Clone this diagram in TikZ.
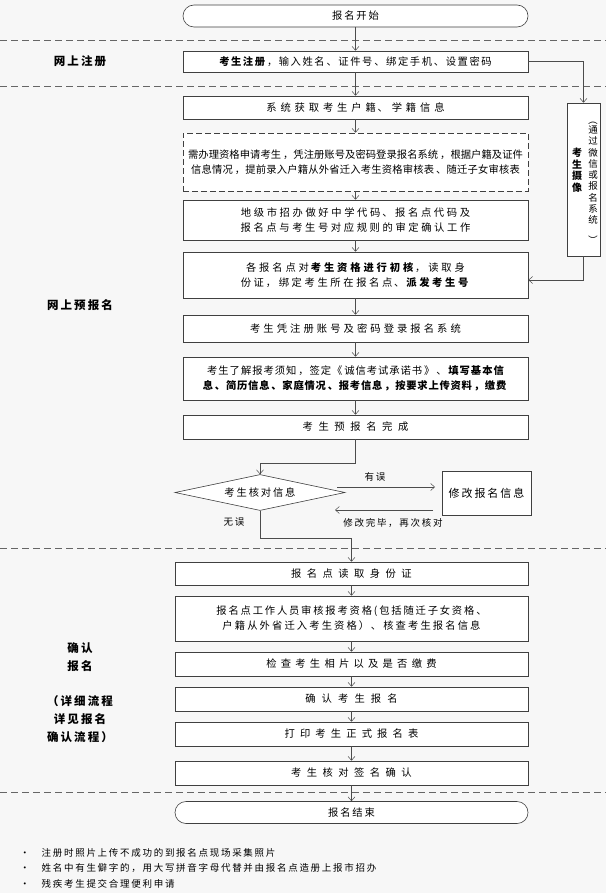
\documentclass[tikz,border=0pt]{standalone}
\usepackage{fontspec}
\setmainfont[LetterSpace=18]{Noto Sans CJK SC}
\usepackage{graphicx}
\usetikzlibrary{shapes.geometric,arrows.meta}
\XeTeXlinebreaklocale "zh"
\XeTeXlinebreakskip=0pt plus 1pt
\begin{document}
\begin{tikzpicture}[x=1pt,y=-1pt,
  every node/.style={font=\fontsize{10.3}{15}\selectfont, inner sep=0pt},
  box/.style={draw=black!75, fill=white, line width=0.6pt, align=center, minimum width=345, text width=337},
  lbox/.style={box, minimum width=353, text width=345},
  dbox/.style={box, dashed, dash pattern=on 6pt off 3pt},
  term/.style={draw=black!75, fill=white, line width=0.6pt, rounded corners=11pt, minimum width=345, minimum height=22},
  arr/.style={draw=black!70, line width=0.5pt, -{Straight Barb[length=4pt,width=7pt]}},
  sep/.style={draw=black!60, line width=0.8pt, dash pattern=on 7pt off 4pt},
  lab/.style={font=\fontsize{11.5}{18}\selectfont\bfseries, align=center}]
\fill[black!3] (0,0) rectangle (606,893);
\useasboundingbox (0,0) rectangle (606,893);
% separators
\draw[sep] (0,40) -- (606,40);
\draw[sep] (0,86) -- (606,86);
\draw[sep] (0,548) -- (606,548);
\draw[sep] (0,792) -- (606,792);
% nodes
\node[term] (start) at (355.5,16) {报名开始};
\node[box, minimum height=21] (reg) at (355.5,61.5) {\textbf{考生注册}，输入姓名、证件号、绑定手机、设置密码};
\node[box, minimum height=23] (b1) at (355.5,107.5) {系统获取考生户籍、学籍信息};
\node[dbox, minimum height=58] (b2) at (355.5,162) {需办理资格申请考生，凭注册账号及密码登录报名系统，根据户籍及证件信息情况，提前录入户籍从外省迁入考生资格审核表、随迁子女审核表};
\node[box, minimum height=40] (b3) at (355.5,220) {地级市招办做好中学代码、报名点代码及报名点与考生号对应规则的审定确认工作};
\node[box, minimum height=46] (b4) at (355.5,275) {各报名点对\textbf{考生资格进行初核}，读取身份证，绑定考生所在报名点、\textbf{派发考生号}};
\node[draw=black!75, fill=white, line width=0.6pt, minimum width=33, minimum height=153] (side) at (583.5,179.5) {};
\node[font=\fontsize{10}{11.5}\selectfont\bfseries, align=center] (sideA) at (577,170) {考\\生\\摄\\像};
\node[font=\fontsize{9.5}{11.3}\selectfont, align=center] (sideB) at (593,180) {\rotatebox{-90}{（}\\通\\过\\微\\信\\或\\报\\名\\系\\统\\\rotatebox{-90}{）}};
\node[box, minimum height=27] (b5) at (355.5,328.5) {考生凭注册账号及密码登录报名系统};
\node[box, minimum height=43] (b6) at (355.5,378.5) {考生了解报考须知，签定《诚信考试承诺书》、\textbf{填写基本信息、简历信息、家庭情况、报考信息，按要求上传资料，缴费}};
\node[box, minimum height=24] (b7) at (355.5,427) {考生预报名完成};
\node[diamond, aspect=5, draw=black!75, fill=white, line width=0.6pt, minimum width=170, minimum height=36] (dia) at (260,492.5) {考生核对信息};
\node[draw=black!75, fill=white, line width=0.6pt, minimum width=89, minimum height=44, font=\fontsize{11}{13}\selectfont] (fix) at (486.5,493) {修改报名信息};
\coordinate (fixin) at (435,487);
\coordinate (fixout) at (433,510);
\node[lbox, minimum height=23] (c1) at (351.5,573.5) {报名点读取身份证};
\node[lbox, minimum height=45] (c2) at (351.5,618.5) {报名点工作人员审核报考资格(包括随迁子女资格、户籍从外省迁入考生资格）、核查考生报名信息};
\node[lbox, minimum height=24] (c3) at (351.5,664) {检查考生相片以及是否缴费};
\node[lbox, minimum height=24] (c4) at (351.5,699) {确认考生报名};
\node[lbox, minimum height=24] (c5) at (351.5,734) {打印考生正式报名表};
\node[lbox, minimum height=24] (c6) at (351.5,773) {考生核对签名确认};
\node[term, minimum width=353] (end) at (351.5,812.5) {报名结束};
% labels
\node[lab] (l1) at (80,61) {网上注册};
\node[lab] (l2) at (80,305) {网上预报名};
\node[lab] (l3) at (80,657) {确认\\报名};
\node[lab] (l4) at (80,719) {（详细流程\\详见报名\\确认流程）};
\node[font=\fontsize{9.5}{12}\selectfont] (t1) at (375,477) {有误};
\node[font=\fontsize{9.5}{12}\selectfont] (t2) at (393,523) {修改完毕，再次核对};
\node[font=\fontsize{9.5}{12}\selectfont] (t3) at (234,522) {无误};
% notes
\node[anchor=west, align=left, font=\fontsize{9.5}{15.5}\selectfont] (notes) at (20,868) {\textbullet\hspace{12pt}注册时照片上传不成功的到报名点现场采集照片\\\textbullet\hspace{12pt}姓名中有生僻字的，用大写拼音字母代替并由报名点造册上报市招办\\\textbullet\hspace{12pt}残疾考生提交合理便利申请};
% connectors
\draw[arr] (start) -- (reg);
\draw[arr] (reg) -- (b1);
\draw[arr] (b1) -- (b2);
\draw[arr] (b2) -- (b3);
\draw[arr] (b3) -- (b4);
\draw[arr] (b4) -- (b5);
\draw[arr] (b5) -- (b6);
\draw[arr] (b6) -- (b7);
\draw[arr] (reg.east) -| (side.north);
\draw[arr] (side.south) |- (b4.east |- 0,280);
\draw[arr] (b7.south) -- ++(0,24) -| (dia.north);
\draw[arr] (dia.east |- fixin) ++(-8,0) -- (fixin);
\draw[arr] (fixout) -- (335,510);
\draw[arr] (dia.south) -- ++(0,27) -| (c1.north);
\draw[arr] (c1) -- (c2);
\draw[arr] (c2) -- (c3);
\draw[arr] (c3) -- (c4);
\draw[arr] (c4) -- (c5);
\draw[arr] (c5) -- (c6);
\draw[arr] (c6) -- (end);
\end{tikzpicture}
\end{document}
